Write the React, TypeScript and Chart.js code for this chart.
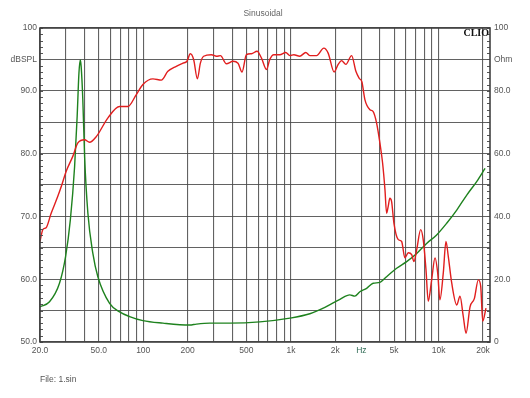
import React, { useEffect, useRef } from "react";
import { Chart, registerables } from "chart.js";

Chart.register(...registerables);

// SPL curve (red), frequency in Hz, level in dBSPL
const splFreq = [20, 20.9, 22.0, 23.8, 26.4, 27.9, 30.1, 33.4, 36.1, 40.1, 43.3, 48.1, 57.7, 69.2, 78.7, 89.8, 99.5, 116.4, 132.7, 146.9, 167.5, 185.8, 197.7, 208.4, 219.7, 232.7, 243.8, 256.5, 289.5, 313.2, 333.4, 365.8, 405.5, 438.5, 466.7, 500, 540.7, 590.2, 632.5, 684, 719.7, 765.8, 841.5, 923, 984, 1047, 1148, 1262, 1343, 1492, 1672, 1788, 1963, 2090, 2204, 2357, 2577, 2755, 2899, 3027, 3170, 3428, 3607, 3803, 4006, 4178, 4334, 4447, 4561, 4678, 4806, 4987, 5333, 5622, 5916, 6237, 6577, 6813, 7112, 7568, 7871, 8220, 8513, 8977, 9463, 9863, 10209, 10765, 11222, 11641, 12275, 13276, 13964, 14697, 15346, 16335, 17465, 18590, 19290, 19910, 20950];
const splDb = [66.0, 67.9, 68.2, 70.5, 73.2, 74.8, 77.2, 79.6, 81.7, 82.2, 81.8, 82.7, 85.7, 87.5, 87.5, 89.4, 91.0, 91.9, 91.7, 93.1, 93.9, 94.4, 94.7, 95.9, 94.95, 91.9, 94.4, 95.5, 95.75, 95.5, 95.6, 94.3, 94.7, 94.4, 93.0, 95.75, 95.9, 96.3, 95.2, 93.4, 95.0, 95.75, 95.75, 96.1, 95.6, 95.75, 95.5, 96.1, 95.6, 95.6, 96.8, 96.0, 93.0, 94.2, 94.8, 94.2, 95.6, 93.1, 92.0, 91.4, 88.6, 87.0, 86.7, 84.9, 81.7, 78.5, 74.3, 70.5, 71.6, 72.9, 72.4, 68.9, 66.3, 66.0, 63.4, 64.2, 63.9, 62.8, 64.7, 67.9, 66.3, 61.5, 56.5, 59.9, 63.4, 61.0, 56.7, 61.0, 66.0, 63.6, 59.4, 55.9, 57.3, 54.1, 51.4, 55.6, 56.9, 59.9, 58.9, 53.3, 55.4];

// Impedance curve (green), frequency in Hz, modulus in Ohm
const impFreq = [20, 23.2, 27.1, 29.8, 32.1, 34.3, 35.7, 36.7, 37.5, 38.0, 39.0, 40.1, 42.2, 45.6, 49.3, 59.2, 69.2, 80.9, 99.5, 136, 206, 229, 282, 385, 615, 984, 1343, 1699, 2148, 2507, 2710, 2931, 3258, 3607, 4006, 4447, 5200, 6081, 7112, 8300, 9706, 11350, 13276, 15522, 18120, 20650];
const impOhm = [11.2, 12.8, 18.7, 27.2, 38.9, 55.8, 71.8, 85.6, 89.8, 87.7, 77.1, 59.0, 41.0, 28.2, 20.8, 12.3, 9.6, 8.1, 6.8, 6.0, 5.4, 5.7, 6.0, 6.0, 6.4, 7.6, 9.0, 11.0, 13.6, 15.0, 14.6, 16.0, 17.1, 18.7, 19.0, 20.8, 23.5, 25.6, 28.2, 31.4, 34.1, 37.8, 42.0, 46.8, 51.1, 55.3];

// Axis ticks
const freqGrid = [20, 30, 40, 50, 60, 70, 80, 90, 100, 200, 300, 400, 500, 600, 700, 800, 900, 1000, 2000, 3000, 4000, 5000, 6000, 7000, 8000, 9000, 10000, 20000];
const freqLabelValues = [20, 50, 100, 200, 500, 1000, 2000, 3000, 5000, 10000, 20000];
const freqLabelTexts = ["20.0", "50.0", "100", "200", "500", "1k", "2k", "Hz", "5k", "10k", "20k"];
const dbLabelValues = [100, 95, 90, 80, 70, 60, 50];
const dbLabelTexts = ["100", "dBSPL", "90.0", "80.0", "70.0", "60.0", "50.0"];
const ohmLabelValues = [100, 90, 80, 60, 40, 20, 0];
const ohmLabelTexts = ["100", "Ohm", "80.0", "60.0", "40.0", "20.0", "0"];

const FONT = "'Liberation Sans', Arial, sans-serif";
const TEXT = "#555555";
const GRID = "rgba(70,70,70,0.85)";

export default function App() {
  const ref = useRef<HTMLCanvasElement | null>(null);

  useEffect(() => {
    if (!ref.current) return;
    const decor = {
      id: "decor",
      afterDraw(chart: any) {
        const { ctx, chartArea: a, scales } = chart;
        const y = scales.y;
        ctx.save();
        // minor ticks inside left and right edges
        ctx.strokeStyle = "#555";
        ctx.lineWidth = 1;
        for (let v = 50; v <= 100; v += 1) {
          const py = Math.round(y.getPixelForValue(v)) + 0.5;
          ctx.beginPath();
          ctx.moveTo(a.left, py);
          ctx.lineTo(a.left + 3, py);
          ctx.moveTo(a.right - 3, py);
          ctx.lineTo(a.right, py);
          ctx.stroke();
        }
        // frame
        ctx.strokeStyle = "#404040";
        ctx.lineWidth = 1.6;
        ctx.strokeRect(a.left, a.top, a.right - a.left, a.bottom - a.top);
        // texts
        ctx.fillStyle = "#666";
        ctx.font = "8.5px " + FONT;
        ctx.textAlign = "center";
        ctx.textBaseline = "middle";
        ctx.fillText("Sinusoidal", 263, 14);
        ctx.fillStyle = TEXT;
        ctx.textAlign = "left";
        ctx.fillText("File: 1.sin", 40, 380);
        ctx.fillStyle = "#111";
        ctx.font = "bold 10px 'Liberation Serif', 'DejaVu Serif', serif";
        ctx.textAlign = "right";
        ctx.textBaseline = "alphabetic";
        ctx.fillText("CLIO", a.right - 1, a.top + 8);
        ctx.restore();
      },
    };

    const chart = new Chart(ref.current, {
      type: "line",
      data: {
        datasets: [
          {
            label: "SPL",
            data: splFreq.map((f, i) => ({ x: f, y: splDb[i] })),
            borderColor: "rgb(225,30,30)",
            borderWidth: 1.4,
            pointRadius: 0,
            cubicInterpolationMode: "monotone",
            yAxisID: "y",
            order: 0,
          },
          {
            label: "Impedance",
            data: impFreq.map((f, i) => ({ x: f, y: impOhm[i] })),
            borderColor: "rgb(30,130,30)",
            borderWidth: 1.4,
            pointRadius: 0,
            cubicInterpolationMode: "monotone",
            yAxisID: "y1",
            order: 1,
          },
        ],
      },
      options: {
        animation: false,
        responsive: false,
        devicePixelRatio: 1,
        layout: { padding: { top: 28, left: 0, right: 0, bottom: 0 } },
        plugins: { legend: { display: false }, tooltip: { enabled: false }, title: { display: false } },
        scales: {
          x: {
            type: "logarithmic",
            min: 20,
            max: 22300,
            afterBuildTicks: (s: any) => {
              s.ticks = freqGrid.map((v) => ({ value: v }));
            },
            afterFit: (s: any) => {
              s.height = 56;
            },
            grid: { color: GRID, lineWidth: 1.1, drawTicks: false },
            border: { display: false },
            ticks: {
              autoSkip: false,
              maxRotation: 0,
              padding: 4,
              font: { size: 8.5, family: FONT },
              color: (c: any) => (c.tick && c.tick.value === 3000 ? "#2f6b55" : TEXT),
              callback: (v: any) => {
                const i = freqLabelValues.indexOf(Number(v));
                return i >= 0 ? freqLabelTexts[i] : "";
              },
            },
          },
          y: {
            type: "linear",
            position: "left",
            min: 50,
            max: 100,
            afterFit: (s: any) => {
              s.width = 40;
            },
            grid: { color: GRID, lineWidth: 1.1, drawTicks: false },
            border: { display: false },
            ticks: {
              stepSize: 5,
              autoSkip: false,
              padding: 3,
              font: { size: 8.5, family: FONT },
              color: TEXT,
              callback: (v: any) => {
                const i = dbLabelValues.indexOf(Number(v));
                return i >= 0 ? dbLabelTexts[i] : "";
              },
            },
          },
          y1: {
            type: "linear",
            position: "right",
            min: 0,
            max: 100,
            afterFit: (s: any) => {
              s.width = 40;
            },
            grid: { drawOnChartArea: false, drawTicks: false },
            border: { display: false },
            ticks: {
              stepSize: 10,
              autoSkip: false,
              padding: 4,
              font: { size: 8.5, family: FONT },
              color: TEXT,
              callback: (v: any) => {
                const i = ohmLabelValues.indexOf(Number(v));
                return i >= 0 ? ohmLabelTexts[i] : "";
              },
            },
          },
        },
      },
      plugins: [decor],
    } as any);
    return () => chart.destroy();
  }, []);

  return (
    <div style={{ position: "fixed", left: 0, top: 0, width: 530, height: 398, background: "#fff" }}>
      <canvas ref={ref} width={530} height={398} style={{ width: 530, height: 398 }} />
    </div>
  );
}
